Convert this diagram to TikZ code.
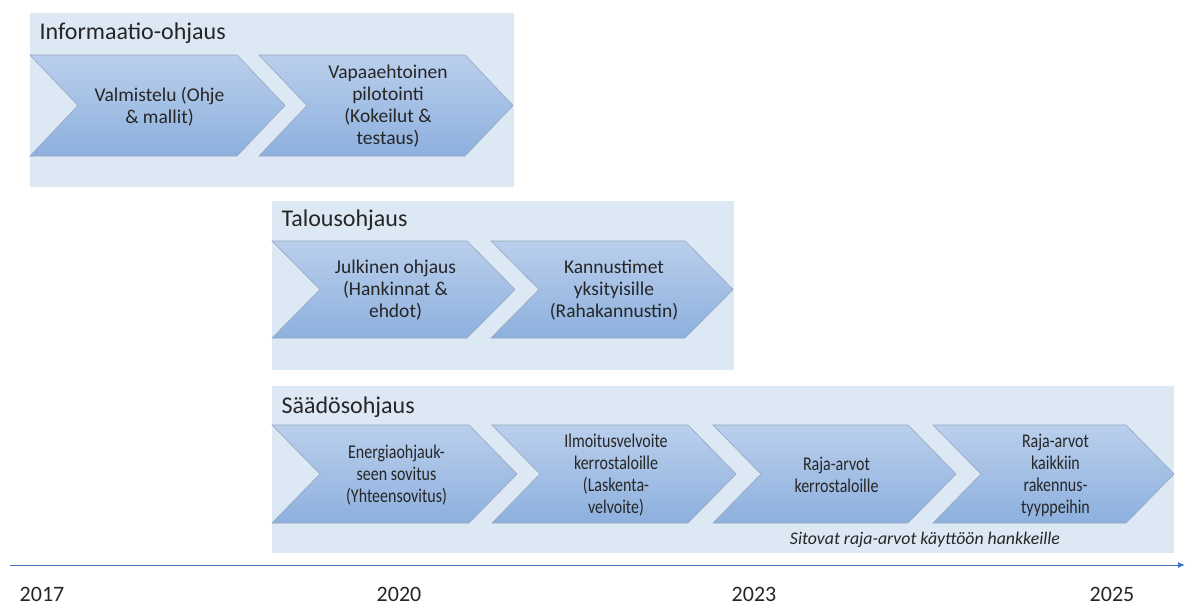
\documentclass[tikz,border=0pt]{standalone}
\usepackage{fontspec}
\setmainfont{Carlito}
\newfontfamily\narrowfont[FakeStretch=0.82]{Carlito}
\usetikzlibrary{arrows.meta}
\definecolor{panelbg}{RGB}{221,232,245}
\definecolor{chevtop}{RGB}{186,207,236}
\definecolor{chevbot}{RGB}{141,176,222}
\definecolor{chevline}{RGB}{150,166,190}
\definecolor{axisblue}{RGB}{68,114,196}
\definecolor{txt}{RGB}{38,38,38}
\begin{document}
\begin{tikzpicture}[
  x=1pt, y=-1pt,
  every node/.style={text=txt},
  panel/.style={fill=panelbg},
  chev/.style={top color=chevtop, bottom color=chevbot, draw=chevline, line width=0.6pt},
  chevtext/.style={align=center, font=\fontsize{19.5}{22}\selectfont},
  narrowtext/.style={chevtext, font=\narrowfont\fontsize{19.5}{22}\selectfont},
  title/.style={anchor=west, font=\fontsize{24}{28}\selectfont},
  year/.style={font=\fontsize{22}{26}\selectfont}
]
\useasboundingbox (0,0) rectangle (1188,605);
% panels
\fill[panel] (30,13) rectangle (514,187);
\fill[panel] (272,201) rectangle (734,370);
\fill[panel] (272,386) rectangle (1174,553);
\node[title] (tInfo) at (36,33) {Informaatio-ohjaus};
\node[title] (tTalous) at (278,220) {Talousohjaus};
\node[title] (tSaados) at (278,407) {Säädösohjaus};
% chevrons: name/left/top/width/height/style/text
\foreach \name/\x/\y/\w/\H/\st/\txt in {
  val/30/55/255/101/chevtext/{Valmistelu (Ohje\\\& mallit)},
  pil/259/55/254/101/chevtext/{Vapaaehtoinen\\pilotointi\\(Kokeilut \&\\testaus)},
  jul/272/241/243/97/chevtext/{Julkinen ohjaus\\(Hankinnat \&\\ehdot)},
  kan/491/241/242/97/chevtext/{Kannustimet\\yksityisille\\(Rahakannustin)},
  ene/272/425/245/98/narrowtext/{Energiaohjauk-\\seen sovitus\\(Yhteensovitus)},
  ilm/492/425/244/98/narrowtext/{Ilmoitusvelvoite\\kerrostaloille\\(Laskenta-\\velvoite)},
  raj/713/425/243/98/narrowtext/{Raja-arvot\\kerrostaloille},
  kai/933/425/241/98/narrowtext/{Raja-arvot\\kaikkiin\\rakennus-\\tyyppeihin}}{
  \shade[chev] (\x,\y) -- (\x+\w-48,\y) -- (\x+\w,\y+\H/2) -- (\x+\w-48,\y+\H)
    -- (\x,\y+\H) -- (\x+48,\y+\H/2) -- cycle;
  \node[\st] (c\name) at (\x+\w/2+2,\y+\H/2+1) {\txt};
}
\node[font=\fontsize{17.8}{20}\selectfont\itshape] (note) at (925,540) {Sitovat raja-arvot käyttöön hankkeille};
% time axis
\coordinate (axL) at (10,565);
\coordinate (axR) at (1185,565);
\draw[axisblue, line width=1pt, -{Latex[length=7pt,width=6pt]}] (axL) -- (axR);
\foreach \yr/\x in {2017/42,2020/399,2023/754,2025/1112}{
  \node[year] (y\yr) at (\x,594) {\yr};
}
\end{tikzpicture}
\end{document}
